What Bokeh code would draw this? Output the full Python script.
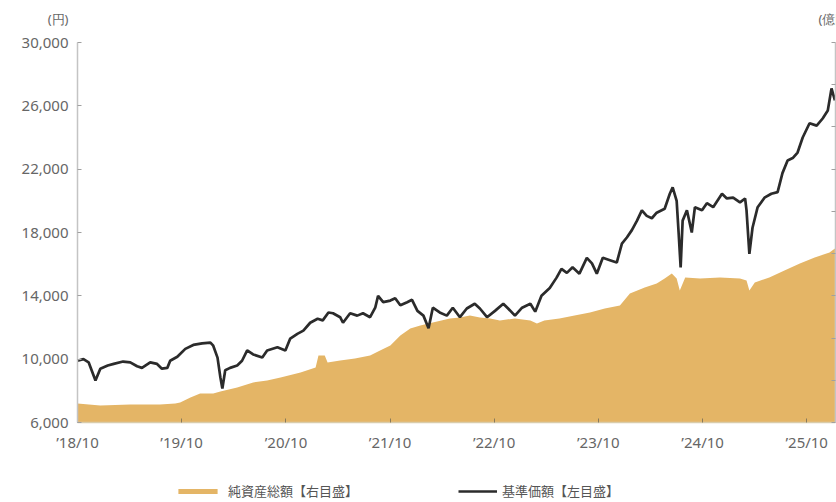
import pandas as pd
from bokeh.plotting import figure
from bokeh.models import (Range1d, LinearAxis, FixedTicker, NumeralTickFormatter, Label,
                          Legend, LegendItem, ColumnDataSource, CustomJSTickFormatter)
from bokeh.embed import file_html
from bokeh.resources import INLINE

# ---------------- data ----------------
nav_dates = [
    "2018-10-01", "2018-10-22", "2018-11-09", "2018-12-03", "2018-12-20", "2019-01-15",
    "2019-02-05", "2019-03-10", "2019-04-04", "2019-04-28", "2019-05-15", "2019-06-13",
    "2019-07-07", "2019-07-24", "2019-08-12", "2019-08-22", "2019-09-16", "2019-10-14",
    "2019-11-11", "2019-12-12", "2020-01-10", "2020-01-20", "2020-02-04", "2020-02-14",
    "2020-02-21", "2020-03-02", "2020-03-19", "2020-04-13", "2020-04-30", "2020-05-18",
    "2020-06-08", "2020-07-10", "2020-07-27", "2020-09-01", "2020-09-29", "2020-10-16",
    "2020-11-10", "2020-12-01", "2020-12-25", "2021-01-20", "2021-02-07", "2021-02-27",
    "2021-03-15", "2021-04-09", "2021-04-19", "2021-05-14", "2021-06-08", "2021-06-28",
    "2021-07-23", "2021-08-10", "2021-08-20", "2021-09-07", "2021-10-02", "2021-10-19",
    "2021-11-06", "2021-11-30", "2021-12-17", "2022-01-05", "2022-01-26", "2022-02-13",
    "2022-02-28", "2022-03-24", "2022-04-18", "2022-05-09", "2022-06-03", "2022-06-27",
    "2022-07-25", "2022-08-12", "2022-09-06", "2022-10-04", "2022-11-02", "2022-11-19",
    "2022-12-13", "2023-01-07", "2023-02-05", "2023-02-22", "2023-03-16", "2023-04-14",
    "2023-05-08", "2023-05-25", "2023-06-13", "2023-07-03", "2023-07-27", "2023-08-22",
    "2023-09-09", "2023-09-26", "2023-10-17", "2023-11-11", "2023-12-05", "2023-12-23",
    "2024-01-10", "2024-01-27", "2024-02-14", "2024-03-02", "2024-03-19", "2024-04-06",
    "2024-04-23", "2024-05-21", "2024-06-08", "2024-06-18", "2024-07-02", "2024-07-09",
    "2024-07-16", "2024-07-23", "2024-08-07", "2024-08-24", "2024-09-04", "2024-09-29",
    "2024-10-16", "2024-11-07", "2024-12-08", "2024-12-25", "2025-01-16", "2025-02-09",
    "2025-02-27", "2025-03-04", "2025-03-14", "2025-03-25", "2025-04-12", "2025-05-06",
    "2025-05-30", "2025-06-21", "2025-07-08", "2025-07-26", "2025-08-13", "2025-08-30",
    "2025-09-17", "2025-10-11", "2025-11-05", "2025-11-26", "2025-12-14", "2025-12-27",
    "2026-01-08",
]
nav_values = [
    9900, 10000, 9800, 8650, 9400, 9600,
    9700, 9850, 9800, 9550, 9450, 9800,
    9700, 9400, 9450, 9900, 10150, 10650,
    10900, 11000, 11050, 10850, 10100, 8850,
    8150, 9300, 9450, 9600, 9900, 10550,
    10300, 10100, 10550, 10750, 10550, 11300,
    11600, 11800, 12300, 12550, 12450, 12950,
    12900, 12650, 12300, 12900, 12750, 12900,
    12650, 13250, 14000, 13600, 13700, 13850,
    13400, 13600, 13750, 13050, 12750, 11950,
    13250, 12950, 12750, 13250, 12650, 13200,
    13500, 13200, 12650, 13050, 13500, 13200,
    12750, 13250, 13500, 13000, 14000, 14500,
    15150, 15700, 15450, 15800, 15400, 16400,
    16050, 15400, 16400, 16250, 16100, 17300,
    17700, 18150, 18750, 19400, 19050, 18900,
    19250, 19500, 20450, 20850, 20000, 17950,
    15800, 18750, 19400, 18000, 19600, 19400,
    19850, 19600, 20450, 20150, 20200, 19900,
    20150, 19400, 16650, 18300, 19600, 20200,
    20450, 20550, 21750, 22550, 22700, 23050,
    24000, 24900, 24750, 25200, 25700, 27100,
    26350,
]

aum_dates = [
    "2018-10-01", "2018-12-20", "2019-04-04", "2019-07-17", "2019-09-09", "2019-09-26",
    "2019-11-01", "2019-12-05", "2020-01-20", "2020-02-14", "2020-04-13", "2020-06-08",
    "2020-07-27", "2020-09-12", "2020-11-21", "2021-01-13", "2021-01-23", "2021-02-14",
    "2021-02-24", "2021-04-09", "2021-05-31", "2021-07-23", "2021-08-27", "2021-10-02",
    "2021-11-06", "2021-12-11", "2022-01-15", "2022-02-28", "2022-04-29", "2022-06-03",
    "2022-07-08", "2022-08-12", "2022-09-17", "2022-10-21", "2022-12-13", "2023-02-05",
    "2023-02-28", "2023-03-26", "2023-05-18", "2023-07-10", "2023-09-02", "2023-10-24",
    "2023-12-16", "2024-01-20", "2024-03-12", "2024-04-23", "2024-05-21", "2024-06-15",
    "2024-07-02", "2024-07-13", "2024-08-01", "2024-09-22", "2024-12-01", "2025-02-09",
    "2025-03-04", "2025-03-14", "2025-04-02", "2025-05-23", "2025-07-15", "2025-09-07",
    "2025-10-29", "2025-12-20", "2026-01-08",
]
aum_values = [  # 億円 (right axis)
    90, 80, 85, 85, 90, 95,
    118, 137, 137, 147, 166, 190,
    199, 213, 237, 260, 317, 317,
    284, 294, 303, 317, 341, 365,
    412, 445, 460, 474, 493, 497,
    507, 497, 493, 483, 493, 483,
    469, 483, 493, 507, 521, 540,
    554, 611, 640, 658, 682, 706,
    682, 625, 687, 682, 687, 682,
    673, 625, 663, 687, 720, 753,
    782, 805, 824,
]

left_ticks = [6000, 10000, 14000, 18000, 22000, 26000, 30000]
right_ticks = [0, 200, 400, 600, 800, 1000, 1200, 1400, 1600, 1800]
x_tick_dates = ["2018-10-01", "2019-10-01", "2020-10-01", "2021-10-01",
                "2022-10-01", "2023-10-01", "2024-10-01", "2025-10-01"]
x_tick_labels = ["\u201918/10", "\u201919/10", "\u201920/10", "\u201921/10",
                 "\u201922/10", "\u201923/10", "\u201924/10", "\u201925/10"]
x_start, x_end = "2018-10-01", "2026-01-10"

legend_aum = "純資産総額【右目盛】"
legend_nav = "基準価額【左目盛】"

# ---------------- layout (pixels) ----------------
W, H = 836, 502
AX_L, AX_R, AX_T, AX_B = 77, 835, 42, 422      # axis box inside the canvas

GOLD = "#E4B566"
LINE = "#2b2b2b"
TXT = "#666666"
AX = "#c4c4c4"
FONT = "Noto Sans"
JFONT = "Noto Sans CJK JP"

t0, t1 = pd.Timestamp(x_start), pd.Timestamp(x_end)
xs = (t1 - t0) / (AX_R - AX_L)
x_range = Range1d(t0 - xs * AX_L, t1 + xs * (W - AX_R))
ylo, yhi = left_ticks[0], left_ticks[-1]
ys = (yhi - ylo) / (AX_B - AX_T)
y_range = Range1d(ylo - ys * (H - AX_B), yhi + ys * AX_T)
rlo, rhi = right_ticks[0], right_ticks[-1]
rs = (rhi - rlo) / (AX_B - AX_T)
r_range = Range1d(rlo - rs * (H - AX_B), rhi + rs * AX_T)

nav_src = ColumnDataSource(dict(date=pd.to_datetime(nav_dates), nav=nav_values))
aum_src = ColumnDataSource(dict(date=pd.to_datetime(aum_dates), aum=aum_values))

p = figure(width=W, height=H, x_axis_type="datetime",
           x_range=x_range, y_range=y_range,
           output_backend="svg", toolbar_location=None,
           min_border=0, min_border_left=0, min_border_right=0,
           min_border_top=0, min_border_bottom=0)
p.extra_y_ranges = {"aum": r_range}
p.outline_line_color = None
p.xgrid.visible = False
p.ygrid.visible = False
p.background_fill_color = "white"
p.border_fill_color = "white"

area = p.varea(x="date", y1=0, y2="aum", source=aum_src, y_range_name="aum",
               fill_color=GOLD, fill_alpha=1.0)
line = p.line(x="date", y="nav", source=nav_src, line_color=LINE, line_width=2.7)

t0_ms = float(t0.value // 10**6)
t1_ms = float(t1.value // 10**6)

# x axis
tick_ms = [float(pd.Timestamp(d).value // 10**6) for d in x_tick_dates]
xa = p.xaxis[0]
xa.fixed_location = ylo
xa.bounds = (t0_ms, t1_ms)
xa.ticker = FixedTicker(ticks=tick_ms)
xa.formatter = CustomJSTickFormatter(args=dict(tvals=tick_ms, tlabels=x_tick_labels), code="""
    let best = -1, bd = Infinity;
    for (let i = 0; i < tvals.length; i++) {
        const d = Math.abs(tvals[i] - tick);
        if (d < bd) { bd = d; best = i; }
    }
    return (best >= 0 && bd < 86400000) ? tlabels[best] : '';
""")
xa.minor_tick_line_color = None
xa.major_tick_in = 4
xa.major_tick_out = 0
xa.major_tick_line_color = "#8a7a5a"
xa.axis_line_color = "#d9ccaa"
xa.axis_line_width = 1.5
xa.major_label_standoff = 9
xa.major_label_text_font = FONT
xa.major_label_text_font_size = "15px"
xa.major_label_text_color = TXT

# left axis
ya = p.yaxis[0]
ya.fixed_location = t0_ms
ya.bounds = (ylo, yhi)
ya.ticker = FixedTicker(ticks=left_ticks)
ya.formatter = NumeralTickFormatter(format="0,0")
ya.minor_tick_line_color = None
ya.major_tick_in = 4
ya.major_tick_out = 0
ya.major_tick_line_color = "#a0a0a0"
ya.axis_line_color = AX
ya.axis_line_width = 1.5
ya.major_label_standoff = 9
ya.major_label_text_font = FONT
ya.major_label_text_font_size = "15px"
ya.major_label_text_color = TXT

# right axis (its labels lie beyond the right edge, as in the reference)
ra = LinearAxis(y_range_name="aum", ticker=FixedTicker(ticks=right_ticks),
                formatter=CustomJSTickFormatter(code="return ''"),
                fixed_location=t1_ms, bounds=(rlo, rhi))
ra.minor_tick_line_color = None
ra.major_tick_in = 4
ra.major_tick_out = 0
ra.major_tick_line_color = "#a0a0a0"
ra.axis_line_color = AX
ra.axis_line_width = 1.5
ra.major_label_standoff = 0
p.add_layout(ra, "right")

# unit labels
p.add_layout(Label(x=t0_ms, y=yhi, x_offset=-9, y_offset=24,
                   text="(円)", text_align="right", text_baseline="middle",
                   text_font=FONT, text_font_size="13px", text_color=TXT))
p.add_layout(Label(x=t1_ms, y=yhi, x_offset=-17, y_offset=24,
                   text="(億円)", text_align="left", text_baseline="middle",
                   text_font=FONT, text_font_size="13px", text_color=TXT))

# legends (screen offsets from the canvas bottom-left)
leg1 = Legend(items=[LegendItem(label=legend_aum, renderers=[area])],
              location=(173, 2), orientation="horizontal",
              glyph_width=49, glyph_height=6, label_height=14, label_standoff=6,
              padding=0, margin=0, border_line_color=None, background_fill_alpha=0,
              label_text_font=JFONT, label_text_font_size="13px", label_text_color="#555555")
leg2 = Legend(items=[LegendItem(label=legend_nav, renderers=[line])],
              location=(458, 2), orientation="horizontal",
              glyph_width=39, glyph_height=6, label_height=14, label_standoff=5,
              padding=0, margin=0, border_line_color=None, background_fill_alpha=0,
              label_text_font=JFONT, label_text_font_size="13px", label_text_color="#555555")
p.add_layout(leg1)
p.add_layout(leg2)

open("out.html", "w").write(file_html(p, INLINE))
